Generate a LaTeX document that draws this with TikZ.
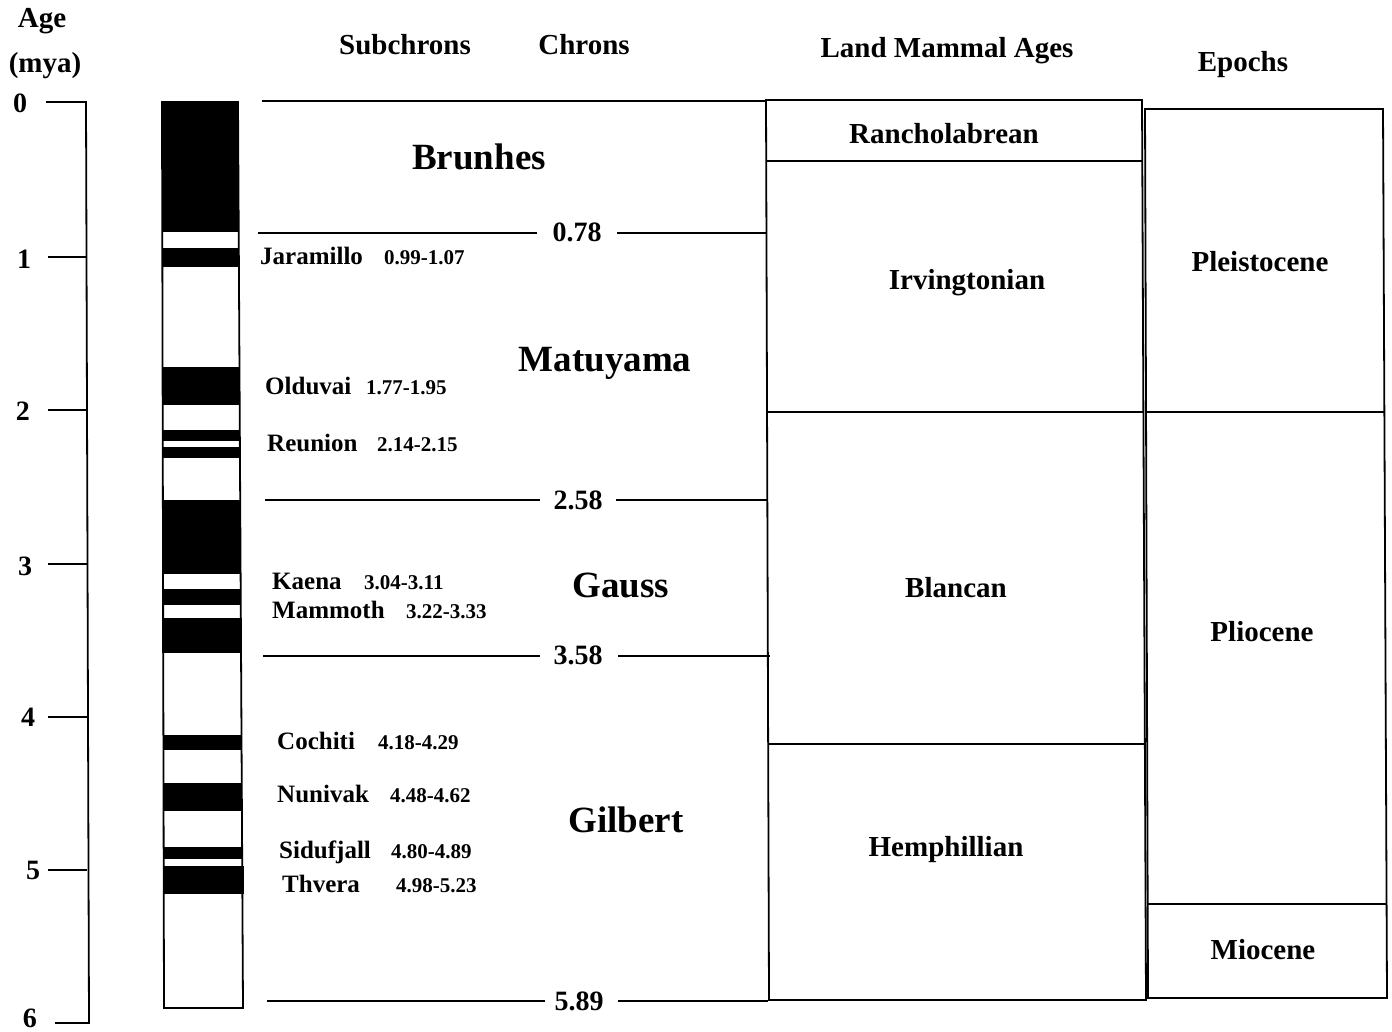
\documentclass[tikz,border=0pt]{standalone}
\usepackage{fontspec}
\setmainfont{Liberation Serif}
\begin{document}
\begin{tikzpicture}[x=1pt,y=-1pt,
  ln/.style={line width=1.8pt,black},
  hdr/.style={font=\fontsize{29}{34}\selectfont\bfseries,anchor=base,inner sep=0pt},
  chron/.style={font=\fontsize{37}{42}\selectfont\bfseries,anchor=base,inner sep=0pt},
  age/.style={font=\fontsize{28}{32}\selectfont\bfseries,anchor=base,inner sep=0pt},
  sub/.style={font=\fontsize{25}{30}\selectfont\bfseries,anchor=base west,inner sep=0pt},
  subd/.style={font=\fontsize{21}{25}\selectfont\bfseries,anchor=base west,inner sep=0pt},
  band/.style={fill=black,draw=none}]
\useasboundingbox (0,0) rectangle (1392,1032);
\fill[white] (0,0) rectangle (1392,1032);

% ---- Age axis ----
\node[hdr] (hage) at (42,28) {Age};
\node[hdr] (hmya) at (45,73) {(mya)};
\draw[ln] (46,102) -- (86,102) -- (89,1023) -- (55,1023);
\foreach \y in {257,410,564,717,870}{
  \draw[ln] (48,\y) -- (87,\y);
}
\node[age] (a0) at (20,113) {0};
\node[age] (a1) at (24,269) {1};
\node[age] (a2) at (23,420) {2};
\node[age] (a3) at (25,575) {3};
\node[age] (a4) at (28,726) {4};
\node[age] (a5) at (33,879) {5};
\node[age] (a6) at (30,1027) {6};

% ---- Polarity column ----
\fill[band] (162,102) rectangle (238,232);
\fill[band] (162,248) rectangle (238,267);
\fill[band] (162,367) rectangle (239,405);
\fill[band] (162,430) rectangle (239,441);
\fill[band] (162,447) rectangle (239,458);
\fill[band] (162,500) rectangle (240,574);
\fill[band] (162,589) rectangle (240,605);
\fill[band] (162,618) rectangle (241,653);
\fill[band] (163,735) rectangle (241,750);
\fill[band] (163,783) rectangle (241,811);
\fill[band] (163,847) rectangle (242,859);
\fill[band] (163,866) rectangle (244,894);
\draw[ln] (162,102) -- (238,102) -- (243,1008) -- (164,1008) -- cycle;

% ---- Headers ----
\node[hdr] (hsub) at (405,55) {Subchrons};
\node[hdr] (hchr) at (584,55) {Chrons};
\node[hdr] (hlma) at (947,58) {Land Mammal Ages};
\node[hdr] (hepo) at (1243,72) {Epochs};

% ---- Chron boundaries ----
\draw[ln] (262,101) -- (766,101);
\node[age] (c078) at (577,242) {0.78};
\draw[ln] (258,233) -- (537,233);
\draw[ln] (617,233) -- (766,233);
\node[age] (c258) at (578,509) {2.58};
\draw[ln] (265,500) -- (540,500);
\draw[ln] (616,500) -- (767,500);
\node[age] (c358) at (578,664) {3.58};
\draw[ln] (263,656) -- (540,656);
\draw[ln] (618,656) -- (770,656);
\node[age] (c589) at (579,1010) {5.89};
\draw[ln] (267,1001) -- (545,1001);
\draw[ln] (618,1001) -- (768,1001);

\node[chron] (brunhes) at (479,170) {Brunhes};
\node[chron] (matuyama) at (605,371) {Matuyama};
\node[chron] (gauss) at (621,597) {Gauss};
\node[chron] (gilbert) at (626,832) {Gilbert};

% ---- Subchrons ----
\node[sub] (jar) at (260,265) {Jaramillo};
\node[subd] (jard) at (384,265) {0.99-1.07};
\node[sub] (old) at (265,394) {Olduvai};
\node[subd] (oldd) at (366,394) {1.77-1.95};
\node[sub] (reu) at (267,451) {Reunion};
\node[subd] (reud) at (377,451) {2.14-2.15};
\node[sub] (kae) at (272,589) {Kaena};
\node[subd] (kaed) at (364,589) {3.04-3.11};
\node[sub] (mam) at (272,618) {Mammoth};
\node[subd] (mamd) at (406,618) {3.22-3.33};
\node[sub] (coc) at (277,749) {Cochiti};
\node[subd] (cocd) at (378,749) {4.18-4.29};
\node[sub] (nun) at (277,802) {Nunivak};
\node[subd] (nund) at (390,802) {4.48-4.62};
\node[sub] (sid) at (279,858) {Sidufjall};
\node[subd] (sidd) at (391,858) {4.80-4.89};
\node[sub] (thv) at (282,892) {Thvera};
\node[subd] (thvd) at (396,892) {4.98-5.23};

% ---- Land Mammal Ages ----
\draw[ln] (766,100) -- (1142,100) -- (1146,1000) -- (769,1000) -- cycle;
\draw[ln] (766,161) -- (1142,161);
\draw[ln] (767,412) -- (1144,412);
\draw[ln] (768,744) -- (1145,744);
\node[hdr] (ran) at (944,144) {Rancholabrean};
\node[hdr] (irv) at (967,290) {Irvingtonian};
\node[hdr] (bla) at (956,597) {Blancan};
\node[hdr] (hem) at (946,856) {Hemphillian};

% ---- Epochs ----
\draw[ln] (1145,109) -- (1383,109) -- (1387,998) -- (1148,998) -- cycle;
\draw[ln] (1146,412) -- (1384,412);
\draw[ln] (1147,904) -- (1386,904);
\node[hdr] (ple) at (1260,272) {Pleistocene};
\node[hdr] (pli) at (1262,641) {Pliocene};
\node[hdr] (mio) at (1263,959) {Miocene};
\end{tikzpicture}
\end{document}
